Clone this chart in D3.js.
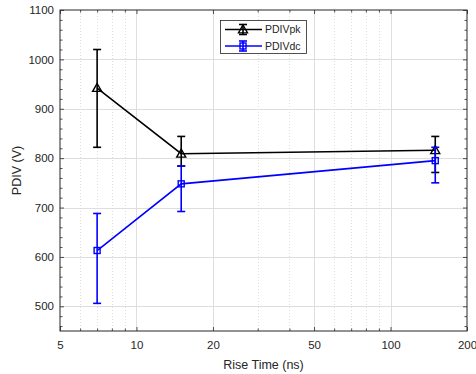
<!DOCTYPE html>
<html>
<head>
<meta charset="utf-8">
<script src="https://cdn.jsdelivr.net/npm/d3@7"></script>
<style>
  html, body { margin: 0; padding: 0; background: #fff; }
  svg { display: block; font-family: "Liberation Sans", Arial, Helvetica, sans-serif; }
</style>
</head>
<body>
<svg id="chart" width="476" height="374"></svg>
<script>
// ---- data ----
const riseTimes = [7, 15, 150];
const pdivPk = [942, 809, 816];
const pdivPkLow = [822, 784, 771];
const pdivPkHigh = [1020, 844, 844];
const pdivDc = [613, 748, 795];
const pdivDcLow = [506, 692, 750];
const pdivDcHigh = [688, 784, 822];
const seriesNames = ["PDIVpk", "PDIVdc"];
const xTicks = [5, 10, 20, 50, 100, 200];
const xMinorTicks = [6, 7, 8, 9, 30, 40, 60, 70, 80, 90];
const yTicks = [500, 600, 700, 800, 900, 1000, 1100];

// ---- layout ----
const W = 476, H = 374;
const m = { left: 60, right: 9, top: 10, bottom: 43 };
const x0 = m.left, x1 = W - m.right, y0 = m.top, y1 = H - m.bottom;
const axisColor = "#262626";

const svg = d3.select("#chart");
const x = d3.scaleLog().domain([5, 200]).range([x0, x1]);
const y = d3.scaleLinear().domain([450, 1100]).range([y1, y0]);
const yMinor = d3.range(460, 1100, 20).filter(v => v % 100 !== 0);

// background
svg.append("rect").attr("x", x0).attr("y", y0).attr("width", x1 - x0).attr("height", y1 - y0).attr("fill", "#fff");

// grids
const grid = svg.append("g");
grid.selectAll(".mg").data(xMinorTicks).join("line")
  .attr("x1", d => Math.round(x(d)) + 0.5).attr("x2", d => Math.round(x(d)) + 0.5)
  .attr("y1", y0).attr("y2", y1)
  .attr("stroke", "#d0d0d0").attr("stroke-width", 0.7).attr("stroke-dasharray", "1,2");
grid.selectAll(".gx").data(xTicks.slice(1, -1)).join("line")
  .attr("x1", d => Math.round(x(d)) + 0.5).attr("x2", d => Math.round(x(d)) + 0.5)
  .attr("y1", y0).attr("y2", y1)
  .attr("stroke", "#dedede").attr("stroke-width", 1);
grid.selectAll(".gy").data(yTicks.slice(0, -1)).join("line")
  .attr("y1", d => Math.round(y(d)) + 0.5).attr("y2", d => Math.round(y(d)) + 0.5)
  .attr("x1", x0).attr("x2", x1)
  .attr("stroke", "#dedede").attr("stroke-width", 1);

// axes via d3 axis generators (inward ticks)
function styleAxis(g) {
  g.select(".domain").remove();
  g.selectAll("line").attr("stroke", axisColor).attr("stroke-width", 0.8);
  g.selectAll("text").attr("fill", axisColor).attr("font-size", "11.5px");
}
const fmt = d => String(d);
svg.append("g").attr("transform", `translate(0,${y1})`)
  .call(d3.axisBottom(x).tickValues(xTicks).tickFormat(fmt).tickSizeInner(-4).tickSizeOuter(0).tickPadding(10))
  .call(styleAxis);
svg.append("g").attr("transform", `translate(0,${y1})`)
  .call(d3.axisBottom(x).tickValues(xMinorTicks).tickFormat("").tickSizeInner(-2.5).tickSizeOuter(0))
  .call(styleAxis);
svg.append("g").attr("transform", `translate(0,${y0})`)
  .call(d3.axisTop(x).tickValues(xTicks).tickFormat("").tickSizeInner(-4).tickSizeOuter(0))
  .call(styleAxis);
svg.append("g").attr("transform", `translate(0,${y0})`)
  .call(d3.axisTop(x).tickValues(xMinorTicks).tickFormat("").tickSizeInner(-2.5).tickSizeOuter(0))
  .call(styleAxis);
svg.append("g").attr("transform", `translate(${x0},0)`)
  .call(d3.axisLeft(y).tickValues(yTicks).tickFormat(fmt).tickSizeInner(-4).tickSizeOuter(0).tickPadding(6))
  .call(styleAxis);
svg.append("g").attr("transform", `translate(${x0},0)`)
  .call(d3.axisLeft(y).tickValues(yMinor).tickFormat("").tickSizeInner(-2.5).tickSizeOuter(0))
  .call(styleAxis);
svg.append("g").attr("transform", `translate(${x1},0)`)
  .call(d3.axisRight(y).tickValues(yTicks).tickFormat("").tickSizeInner(-4).tickSizeOuter(0))
  .call(styleAxis);
svg.append("g").attr("transform", `translate(${x1},0)`)
  .call(d3.axisRight(y).tickValues(yMinor).tickFormat("").tickSizeInner(-2.5).tickSizeOuter(0))
  .call(styleAxis);

// box
svg.append("rect").attr("x", x0).attr("y", y0).attr("width", x1 - x0).attr("height", y1 - y0)
  .attr("fill", "none").attr("stroke", axisColor).attr("stroke-width", 1);

// axis labels
svg.append("text").attr("x", (x0 + x1) / 2).attr("y", 369).attr("text-anchor", "middle")
  .attr("font-size", "12.5px").attr("fill", axisColor).text("Rise Time (ns)");
svg.append("text").attr("transform", `translate(21,${(y0 + y1) / 2}) rotate(-90)`).attr("text-anchor", "middle")
  .attr("font-size", "12.5px").attr("fill", axisColor).text("PDIV (V)");

// series
const series = [
  { name: seriesNames[0], color: "#000000", v: pdivPk, lo: pdivPkLow, hi: pdivPkHigh, marker: "tri" },
  { name: seriesNames[1], color: "#0000ff", v: pdivDc, lo: pdivDcLow, hi: pdivDcHigh, marker: "sq" }
];
const capW = 4;
const line = d3.line().x((d) => x(d[0])).y((d) => y(d[1]));

function drawMarker(g, type, cx, cy, color) {
  if (type === "tri") {
    const s = 4.5;
    g.append("path").attr("d", `M${cx},${cy - s} L${cx + s},${cy + s * 0.75} L${cx - s},${cy + s * 0.75} Z`)
      .attr("fill", "none").attr("stroke", color).attr("stroke-width", 1.4);
  } else {
    const s = 3;
    g.append("rect").attr("x", cx - s).attr("y", cy - s).attr("width", 2 * s).attr("height", 2 * s)
      .attr("fill", "none").attr("stroke", color).attr("stroke-width", 1.4);
  }
}

series.forEach(s => {
  const g = svg.append("g");
  const pts = riseTimes.map((t, i) => [t, s.v[i]]);
  g.append("path").datum(pts).attr("d", line).attr("fill", "none").attr("stroke", s.color).attr("stroke-width", 1.6);
  riseTimes.forEach((t, i) => {
    const cx = x(t);
    g.append("line").attr("x1", cx).attr("x2", cx).attr("y1", y(s.lo[i])).attr("y2", y(s.hi[i]))
      .attr("stroke", s.color).attr("stroke-width", 1.6);
    [s.lo[i], s.hi[i]].forEach(v => {
      g.append("line").attr("x1", cx - capW).attr("x2", cx + capW).attr("y1", y(v)).attr("y2", y(v))
        .attr("stroke", s.color).attr("stroke-width", 1.6);
    });
    drawMarker(g, s.marker, cx, y(s.v[i]), s.color);
  });
});

// legend
const lg = svg.append("g");
lg.append("rect").attr("x", 220.5).attr("y", 20.5).attr("width", 86).attr("height", 33)
  .attr("fill", "#fff").attr("stroke", axisColor).attr("stroke-width", 0.8);
series.forEach((s, i) => {
  const cy = 29.5 + i * 16.5;
  lg.append("line").attr("x1", 225).attr("x2", 262).attr("y1", cy).attr("y2", cy)
    .attr("stroke", s.color).attr("stroke-width", 1.6);
  lg.append("line").attr("x1", 243).attr("x2", 243).attr("y1", cy - 5).attr("y2", cy + 5)
    .attr("stroke", s.color).attr("stroke-width", 1.6);
  [cy - 5, cy + 5].forEach(v => lg.append("line").attr("x1", 239).attr("x2", 247).attr("y1", v).attr("y2", v)
    .attr("stroke", s.color).attr("stroke-width", 1.6));
  drawMarker(lg, s.marker, 243, cy, s.color);
  lg.append("text").attr("x", 265).attr("y", cy + 3.8).attr("font-size", "10.5px").attr("fill", axisColor).text(s.name);
});
</script>
</body>
</html>
